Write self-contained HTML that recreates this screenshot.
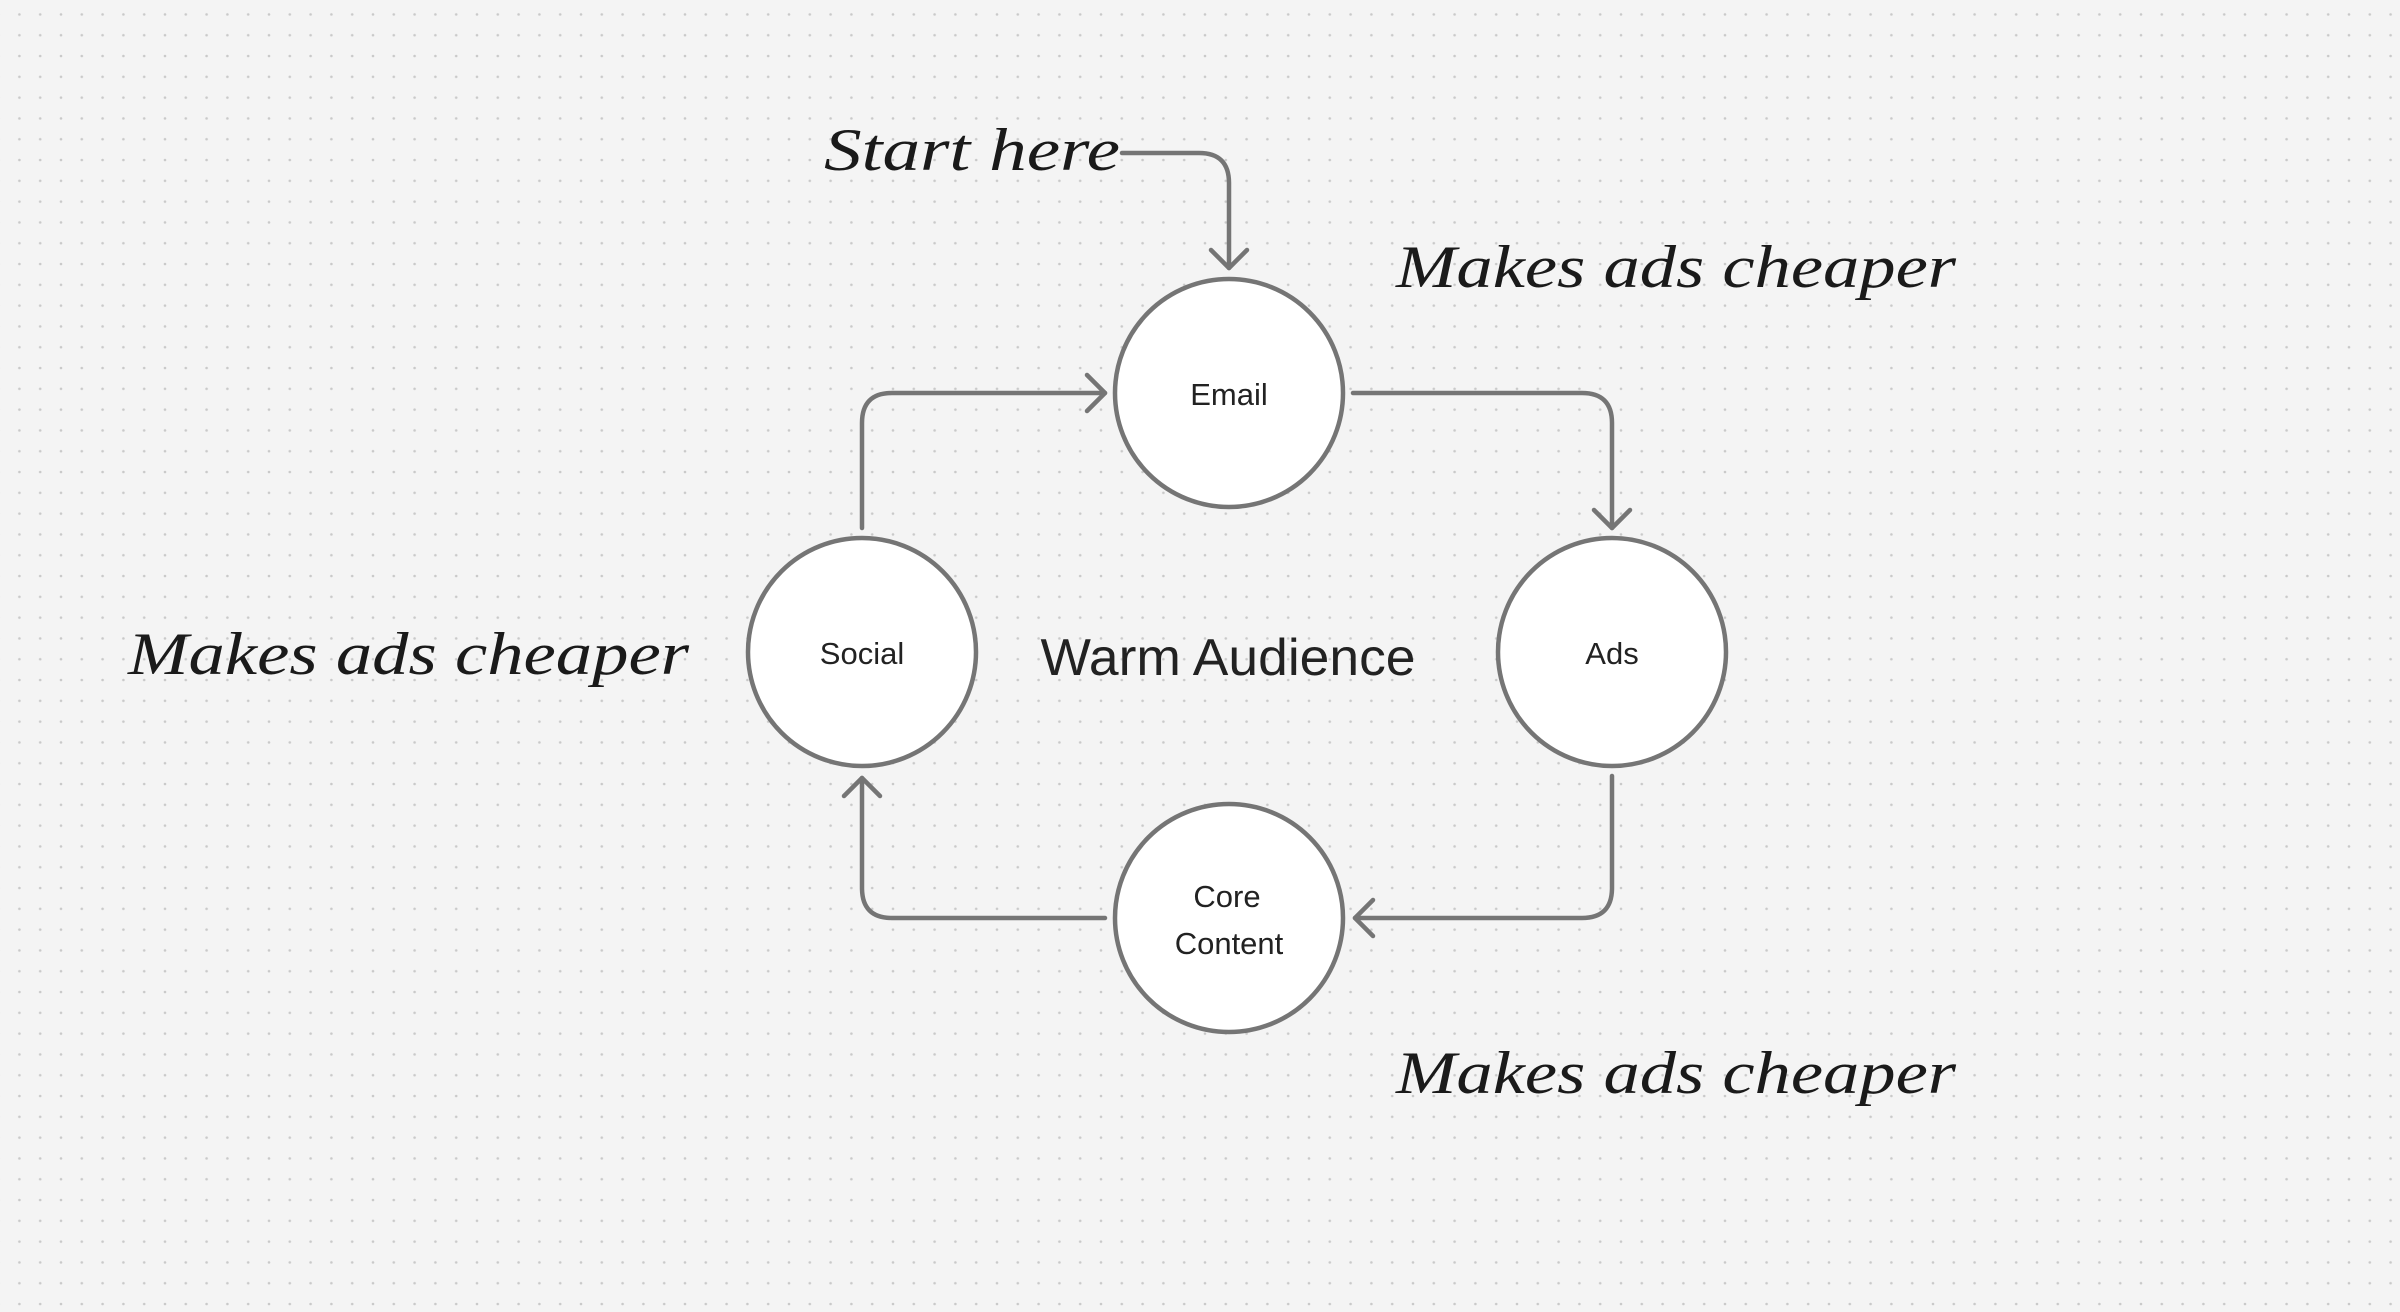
<!DOCTYPE html>
<html><head><meta charset="utf-8"><style>
html,body{margin:0;padding:0;width:2400px;height:1312px;overflow:hidden;background:#f4f4f4;}
</style></head><body>
<svg width="2400" height="1312" viewBox="0 0 2400 1312" xmlns="http://www.w3.org/2000/svg">
<defs>
<pattern id="dots" x="9" y="4" width="20.8" height="20.8" patternUnits="userSpaceOnUse">
<circle cx="10.4" cy="10.4" r="1.3" fill="#c9c9c9"/>
</pattern>
</defs>
<rect width="2400" height="1312" fill="#f4f4f4"/>
<rect width="2400" height="1312" fill="url(#dots)"/>
<g fill="none" stroke="#757575" stroke-width="4.5" stroke-linecap="round" stroke-linejoin="round">
<path d="M1122 153 H1199 Q1229 153 1229 183 V268"/>
<path d="M1211 250 L1229 268 L1247 250"/>
<path d="M1353 393 H1582 Q1612 393 1612 423 V528"/>
<path d="M1594 510 L1612 528 L1630 510"/>
<path d="M1612 776 V888 Q1612 918 1582 918 H1355"/>
<path d="M1373 900 L1355 918 L1373 936"/>
<path d="M1105 918 H892 Q862 918 862 888 V778"/>
<path d="M844 796 L862 778 L880 796"/>
<path d="M862 528 V423 Q862 393 892 393 H1105"/>
<path d="M1087 375 L1105 393 L1087 411"/>
</g>
<g fill="#ffffff" stroke="#757575" stroke-width="4.5">
<circle cx="1229" cy="393" r="114"/>
<circle cx="862" cy="652" r="114"/>
<circle cx="1612" cy="652" r="114"/>
<circle cx="1229" cy="918" r="114"/>
</g>
<g font-family="Liberation Sans, sans-serif" fill="#222" text-anchor="middle" font-size="31">
<text x="1229" y="405">Email</text>
<text x="862" y="664">Social</text>
<text x="1612" y="664">Ads</text>
<text x="1227" y="907">Core</text>
<text x="1229" y="954">Content</text>
<text x="1228" y="675" font-size="52" textLength="375" lengthAdjust="spacingAndGlyphs">Warm Audience</text>
</g>
<g font-family="Liberation Serif, serif" font-style="italic" fill="#1a1a1a" font-size="60">
<text x="824" y="170" textLength="296" lengthAdjust="spacingAndGlyphs">Start here</text>
<text x="1396" y="287" textLength="560" lengthAdjust="spacingAndGlyphs">Makes ads cheaper</text>
<text x="128" y="674" textLength="561" lengthAdjust="spacingAndGlyphs">Makes ads cheaper</text>
<text x="1396" y="1093" textLength="560" lengthAdjust="spacingAndGlyphs">Makes ads cheaper</text>
</g>
</svg>
</body></html>
